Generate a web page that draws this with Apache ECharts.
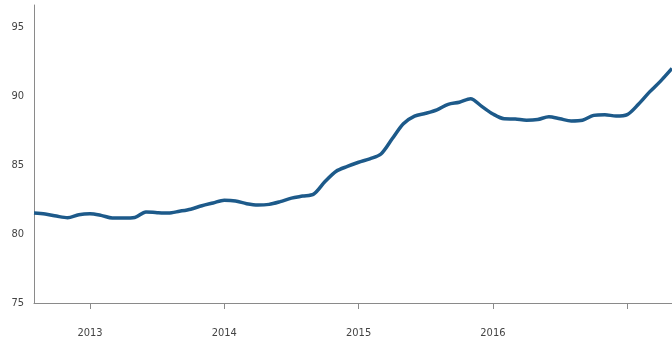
<!DOCTYPE html>
<html>
<head>
<meta charset="utf-8">
<script src="https://cdn.jsdelivr.net/npm/echarts@6/dist/echarts.min.js"></script>
<style>
  html, body { margin: 0; padding: 0; background: #fff; }
  #chart { width: 672px; height: 339px; }
</style>
</head>
<body>
<div id="chart"></div>
<script>
// monthly, Aug 2012 .. May 2017
var months = [];
(function () {
  var y = 2012, m = 8;
  for (var i = 0; i < 58; i++) {
    months.push(y + '-' + (m < 10 ? '0' + m : m));
    m++;
    if (m > 12) { m = 1; y++; }
  }
})();

var values = [
  81.52, 81.45, 81.3, 81.18, 81.4, 81.47, 81.35, 81.16, 81.16, 81.2,
  81.6, 81.55, 81.52, 81.65, 81.8, 82.05, 82.25, 82.45, 82.4, 82.2,
  82.1, 82.15, 82.35, 82.6, 82.75, 82.9, 83.8, 84.55, 84.9, 85.2,
  85.45, 85.8, 86.9, 88.0, 88.55, 88.75, 89.0, 89.4, 89.55, 89.8,
  89.25, 88.7, 88.35, 88.33, 88.25, 88.3, 88.5, 88.35, 88.2, 88.25,
  88.6, 88.65, 88.55, 88.65, 89.4, 90.3, 91.1, 92.0
];

var yTicks = [75, 80, 85, 90, 95];
var yearLabels = ['2013', '2014', '2015', '2016'];

var labelFont = '"Liberation Sans Narrow", "DejaVu Sans Condensed", "Liberation Sans", sans-serif';

var chart = echarts.init(document.getElementById('chart'));

function isJan(idx) {
  return months[idx].slice(5) === '01';
}

var option = {
  animation: false,
  grid: { left: 34, right: 0, top: 5, bottom: 36 },
  xAxis: {
    type: 'category',
    data: months,
    boundaryGap: false,
    axisLine: { lineStyle: { color: '#8a8a8a', width: 1 } },
    axisTick: {
      interval: function (idx) { return isJan(idx); },
      length: 6,
      lineStyle: { color: '#8a8a8a' }
    },
    axisLabel: {
      interval: function (idx) { return isJan(idx) && yearLabels.indexOf(months[idx].slice(0, 4)) >= 0; },
      formatter: function (v) { return v.slice(0, 4); },
      fontFamily: labelFont,
      fontSize: 11,
      color: '#444',
      margin: 25
    },
    splitLine: { show: false }
  },
  yAxis: {
    type: 'value',
    min: 75,
    max: 96.6,
    interval: 5,
    axisLine: { show: true, lineStyle: { color: '#8a8a8a', width: 1 } },
    axisTick: { show: false },
    axisLabel: {
      formatter: function (v) { return yTicks.indexOf(v) >= 0 ? String(v) : ''; },
      fontFamily: labelFont,
      fontSize: 11,
      color: '#444',
      margin: 10
    },
    splitLine: { show: false }
  },
  series: [{
    type: 'line',
    data: values,
    showSymbol: false,
    smooth: 0.3,
    lineStyle: { color: '#1d5a8a', width: 3.5 },
    itemStyle: { color: '#1d5a8a' }
  }]
};

chart.setOption(option);
</script>
</body>
</html>
